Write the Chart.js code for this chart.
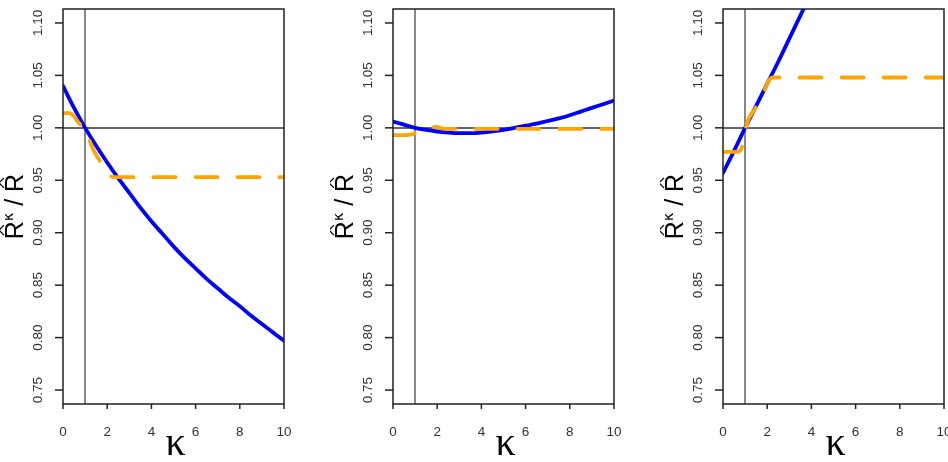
<!DOCTYPE html>
<html>
<head>
<meta charset="utf-8">
<script src="https://cdn.jsdelivr.net/npm/chart.js@4"></script>
<style>
html, body { margin: 0; padding: 0; background: #fff; overflow: hidden; width: 948px; height: 462px; }
.panel { position: absolute; top: 0; width: 300px; height: 462px; }
</style>
</head>
<body>
<div class="panel" style="left:0px"><canvas id="p1" width="300" height="462"></canvas></div>
<div class="panel" style="left:330px"><canvas id="p2" width="300" height="462"></canvas></div>
<div class="panel" style="left:660px"><canvas id="p3" width="300" height="462"></canvas></div>
<script>
// axes
const xTicks = [0, 2, 4, 6, 8, 10];
const yTicks = [0.75, 0.80, 0.85, 0.90, 0.95, 1.00, 1.05, 1.10];
const yTickLabels = ['0.75', '0.80', '0.85', '0.90', '0.95', '1.00', '1.05', '1.10'];

// blue curves (solid)
const kBlue = [0, 0.5, 1, 1.5, 2, 2.5, 3, 3.5, 4, 4.5, 5, 5.5, 6, 6.5, 7, 7.5, 8, 8.5, 9, 9.5, 10];
const blue1 = [1.040, 1.019, 1.000, 0.983, 0.967, 0.952, 0.938, 0.924, 0.911, 0.899, 0.887, 0.876, 0.866, 0.856, 0.847, 0.838, 0.830, 0.821, 0.813, 0.805, 0.797];
const blue2 = [1.006, 1.003, 1.000, 0.998, 0.9965, 0.9955, 0.995, 0.995, 0.9955, 0.9966, 0.998, 1.000, 1.002, 1.004, 1.0065, 1.009, 1.012, 1.0155, 1.019, 1.0225, 1.026];
const kBlue3 = [0, 0.5, 1, 1.5, 2, 2.5, 3, 3.5, 4];
const blue3 = [0.957, 0.978, 1.000, 1.021, 1.042, 1.063, 1.085, 1.107, 1.129];

// orange curves (dashed)
const kOr1 = [0, 0.3, 0.5, 0.7, 0.95, 1.2, 1.4, 1.65, 1.9, 2.1, 2.3, 10];
const or1 = [1.014, 1.014, 1.011, 1.005, 1.000, 0.988, 0.978, 0.969, 0.961, 0.955, 0.953, 0.953];
const kOr2 = [0, 0.5, 0.9, 1.1, 1.4, 1.8, 2.0, 2.3, 10];
const or2 = [0.993, 0.993, 0.994, 0.996, 0.998, 1.0005, 1.0008, 0.999, 0.999];
const kOr3 = [0, 0.6, 0.8, 0.95, 1.05, 1.5, 1.9, 2.1, 2.25, 10];
const or3 = [0.977, 0.977, 0.979, 0.990, 1.002, 1.020, 1.037, 1.046, 1.048, 1.048];

function pts(xs, ys) { return xs.map((x, i) => ({ x: x, y: ys[i] })); }

function drawHat(ctx, cx) { // petit chapeau au-dessus du R
	ctx.beginPath();
	ctx.moveTo(cx - 5, -19);
	ctx.lineTo(cx, -24);
	ctx.lineTo(cx + 5, -19);
	ctx.lineWidth = 1.3;
	ctx.strokeStyle = '#000';
	ctx.stroke();
}

function drawYLabel(ctx, bx, cy) {
	ctx.save();
	ctx.translate(bx, cy);
	ctx.rotate(-Math.PI / 2);
	ctx.fillStyle = '#000';
	ctx.textBaseline = 'alphabetic';
	const big = '25px "Liberation Sans"', small = '14px "DejaVu Sans"';
	ctx.font = big;
	const wR = ctx.measureText('R').width, wS = ctx.measureText('/').width;
	ctx.font = small;
	const wK = ctx.measureText('κ').width;
	const gap = 7;
	let x = -(wR + wK + gap + wS + gap + wR) / 2;
	ctx.font = big; ctx.fillText('R', x, 0); drawHat(ctx, x + wR / 2);
	x += wR;
	ctx.font = small; ctx.fillText('κ', x, -10);
	x += wK + gap;
	ctx.font = big; ctx.fillText('/', x, 0);
	x += wS + gap;
	ctx.fillText('R', x, 0); drawHat(ctx, x + wR / 2);
	ctx.restore();
}

const rAxes = {
	id: 'rAxes',
	beforeDatasetsDraw(chart) { // lignes de référence x=1 et y=1
		const { ctx, chartArea: a, scales: { x, y } } = chart;
		ctx.save();
		ctx.lineWidth = 1.4;
		ctx.strokeStyle = '#555';
		const px = Math.round(x.getPixelForValue(1));
		ctx.beginPath(); ctx.moveTo(px, a.top); ctx.lineTo(px, a.bottom); ctx.stroke();
		ctx.strokeStyle = '#333';
		const py = Math.round(y.getPixelForValue(1));
		ctx.beginPath(); ctx.moveTo(a.left, py); ctx.lineTo(a.right, py); ctx.stroke();
		ctx.restore();
	},
	afterDraw(chart) {
		const { ctx, chartArea: a, scales: { x, y } } = chart;
		ctx.save();
		ctx.strokeStyle = '#222';
		ctx.lineWidth = 1.5;
		ctx.strokeRect(a.left, a.top, a.right - a.left, a.bottom - a.top);
		ctx.fillStyle = '#333';
		ctx.font = '13.5px "Liberation Sans"';
		// axe x
		ctx.textAlign = 'center';
		ctx.textBaseline = 'middle';
		xTicks.forEach(v => {
			const px = x.getPixelForValue(v);
			ctx.beginPath(); ctx.moveTo(px, a.bottom); ctx.lineTo(px, a.bottom + 5); ctx.stroke();
			ctx.fillText(String(v), px, 432);
		});
		// axe y (labels tournés)
		yTicks.forEach((v, i) => {
			const py = y.getPixelForValue(v);
			ctx.beginPath(); ctx.moveTo(a.left - 8, py); ctx.lineTo(a.left, py); ctx.stroke();
			ctx.save();
			ctx.translate(a.left - 25, py);
			ctx.rotate(-Math.PI / 2);
			ctx.fillText(yTickLabels[i], 0, 0);
			ctx.restore();
		});
		// titre axe x
		ctx.fillStyle = '#000';
		ctx.font = '40px "Liberation Serif"';
		ctx.textBaseline = 'alphabetic';
		ctx.fillText('κ', (a.left + a.right) / 2 + 2, 455);
		ctx.restore();
		drawYLabel(ctx, a.left - 40, (a.top + a.bottom) / 2);
	}
};

function makePanel(id, bluePts, orangePts) {
	return new Chart(document.getElementById(id), {
		type: 'line',
		data: {
			datasets: [
				{
					label: 'orange', data: orangePts, order: 0,
					borderColor: '#FFA500', borderWidth: 3.8, borderDash: [22, 20],
					borderCapStyle: 'round', pointRadius: 0, cubicInterpolationMode: 'monotone', fill: false
				},
				{
					label: 'blue', data: bluePts, order: 1,
					borderColor: '#0000FF', borderWidth: 3.8,
					borderCapStyle: 'round', pointRadius: 0, cubicInterpolationMode: 'monotone', fill: false
				}
			]
		},
		options: {
			responsive: false,
			animation: false,
			devicePixelRatio: 1,
			layout: { padding: { left: 63, right: 16, top: 9, bottom: 58 } },
			plugins: { legend: { display: false }, tooltip: { enabled: false } },
			scales: {
				x: { type: 'linear', min: 0, max: 10, display: false },
				y: { type: 'linear', min: 0.7367, max: 1.1133, display: false }
			}
		},
		plugins: [rAxes]
	});
}

makePanel('p1', pts(kBlue, blue1), pts(kOr1, or1));
makePanel('p2', pts(kBlue, blue2), pts(kOr2, or2));
makePanel('p3', pts(kBlue3, blue3), pts(kOr3, or3));
</script>
</body>
</html>
